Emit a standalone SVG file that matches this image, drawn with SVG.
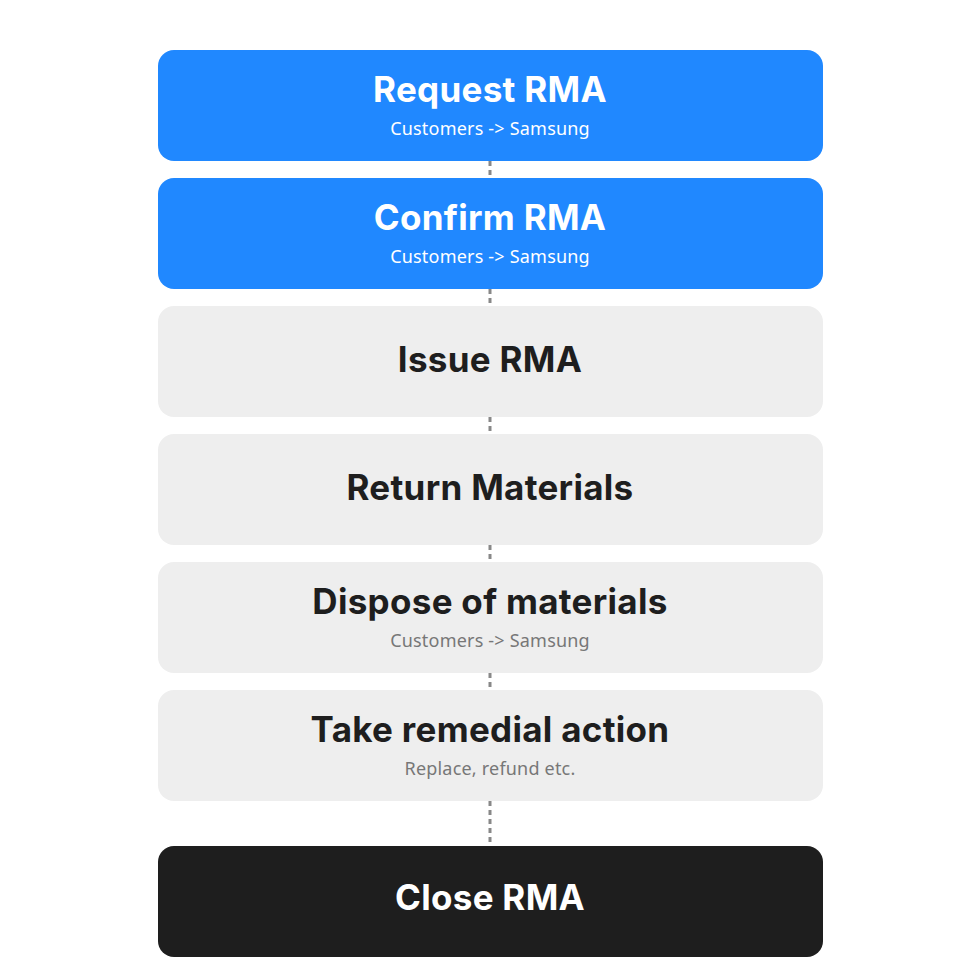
<svg xmlns="http://www.w3.org/2000/svg" width="980" height="980" viewBox="0 0 980 980">
<style>
.box{stroke:none}
.blue{fill:#2088FF}.gray{fill:#EEEEEE}.dark{fill:#1E1E1E}
.t{font-family:"Inter","Liberation Sans",sans-serif;font-weight:700;font-size:35px;text-anchor:middle;letter-spacing:0.3px}
.s{font-family:"Noto Sans","Liberation Sans",sans-serif;font-size:18px;text-anchor:middle;letter-spacing:0.2px}
.w{fill:#FFFFFF}.k{fill:#1E1E1E}.g{fill:#777777}
.c{stroke:#888888;stroke-width:3;stroke-dasharray:5 4;fill:none}
</style>
<rect width="980" height="980" fill="#FFFFFF"/>
<g id="connectors">
<line class="c" x1="490" y1="161" x2="490" y2="178"/>
<line class="c" x1="490" y1="289" x2="490" y2="306"/>
<line class="c" x1="490" y1="417" x2="490" y2="434"/>
<line class="c" x1="490" y1="545" x2="490" y2="562"/>
<line class="c" x1="490" y1="673" x2="490" y2="690"/>
<line class="c" x1="490" y1="801" x2="490" y2="846"/>
</g>
<g id="n1"><rect class="box blue" x="158" y="50" width="665" height="111" rx="16"/><text class="t w" x="490" y="102">Request RMA</text><text class="s w" x="490" y="135">Customers -&gt; Samsung</text></g>
<g id="n2"><rect class="box blue" x="158" y="178" width="665" height="111" rx="16"/><text class="t w" x="490" y="230">Confirm RMA</text><text class="s w" x="490" y="263">Customers -&gt; Samsung</text></g>
<g id="n3"><rect class="box gray" x="158" y="306" width="665" height="111" rx="16"/><text class="t k" x="490" y="372">Issue RMA</text></g>
<g id="n4"><rect class="box gray" x="158" y="434" width="665" height="111" rx="16"/><text class="t k" x="490" y="500">Return Materials</text></g>
<g id="n5"><rect class="box gray" x="158" y="562" width="665" height="111" rx="16"/><text class="t k" x="490" y="614">Dispose of materials</text><text class="s g" x="490" y="647">Customers -&gt; Samsung</text></g>
<g id="n6"><rect class="box gray" x="158" y="690" width="665" height="111" rx="16"/><text class="t k" x="490" y="742">Take remedial action</text><text class="s g" x="490" y="775">Replace, refund etc.</text></g>
<g id="n7"><rect class="box dark" x="158" y="846" width="665" height="111" rx="16"/><text class="t w" x="490" y="910">Close RMA</text></g>
</svg>
